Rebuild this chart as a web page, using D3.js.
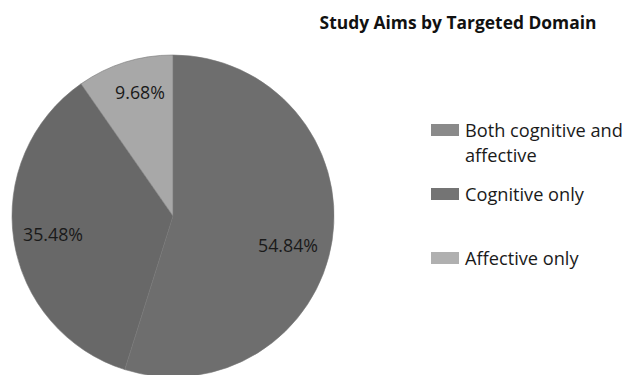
<!DOCTYPE html>
<html><head><meta charset="utf-8">
<script src="https://cdn.jsdelivr.net/npm/d3@7"></script>
<style>html,body{margin:0;padding:0;background:#fff;overflow:hidden}</style>
</head><body>
<svg id="c" width="627" height="375"></svg>
<script>
const categories = ["Both cognitive and affective", "Cognitive only", "Affective only"];
const legendLines = [["Both cognitive and", "affective"], ["Cognitive only"], ["Affective only"]];
const values = [54.84, 35.48, 9.68];
const labels = ["54.84%", "35.48%", "9.68%"];
const sliceColors = ["#6e6e6e", "#686868", "#a8a8a8"];
const swatchColors = ["#8a8a8a", "#747474", "#b0b0b0"];
const title = "Study Aims by Targeted Domain";

const svg = d3.select("#c");
const cx = 173, cy = 216, r = 161;
const font = "'Open Sans', sans-serif";

const pie = d3.pie().sort(null).value(d => d)(values);
const arc = d3.arc().innerRadius(0).outerRadius(r);
const g = svg.append("g").attr("transform", `translate(${cx},${cy})`);
g.selectAll("path").data(pie).join("path")
  .attr("d", arc).attr("fill", (d, i) => sliceColors[i])
  .attr("stroke", "#777").attr("stroke-width", 0.6);

const labelPos = [[115, 36], [-120, 25], [-33, -117]];
g.selectAll("text").data(pie).join("text")
  .attr("x", (d, i) => labelPos[i][0]).attr("y", (d, i) => labelPos[i][1])
  .attr("text-anchor", "middle")
  .attr("font-family", font).attr("font-size", 17.8).attr("fill", "#1a1a1a")
  .text((d, i) => labels[i]);

svg.append("text").attr("x", 458).attr("y", 29).attr("text-anchor", "middle")
  .attr("font-family", font).attr("font-weight", "bold").attr("font-size", 17.4)
  .attr("fill", "#111").text(title);

const legY = [124, 188, 252];
const lg = svg.append("g");
categories.forEach((c, i) => {
  lg.append("rect").attr("x", 431).attr("y", legY[i]).attr("width", 28).attr("height", 12)
    .attr("fill", swatchColors[i]);
  const t = lg.append("text").attr("x", 465).attr("y", legY[i] + 13)
    .attr("font-family", font).attr("font-size", 18.2).attr("fill", "#1a1a1a");
  legendLines[i].forEach((ln, j) => {
    t.append("tspan").attr("x", 465).attr("dy", j === 0 ? 0 : 25).text(ln);
  });
});
</script>
</body></html>
